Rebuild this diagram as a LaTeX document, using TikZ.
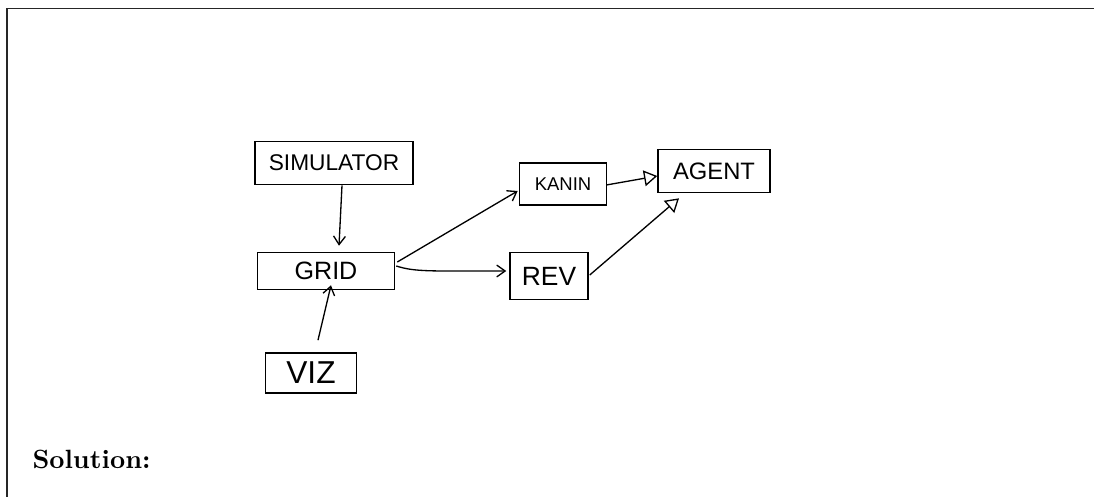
\documentclass[tikz,border=0pt]{standalone}
\usepackage{fontspec}
\newfontfamily\handfont{Liberation Sans}
\usetikzlibrary{arrows.meta,calc}
\begin{document}
\begin{tikzpicture}[x=0.3788pt,y=-0.3788pt,
  box/.style={draw=black,line width=0.6pt,inner sep=0pt,font=\handfont},
  conn/.style={draw=black,line width=0.5pt,-{Straight Barb[length=3.2pt,width=4.5pt]}},
  tri/.style={draw=black,line width=0.5pt,-{Triangle[open,length=5pt,width=6pt]}}]
\useasboundingbox (0,0) rectangle (1094,497);
% frame
\coordinate (ftl) at (7,8.5);
\coordinate (ftr) at (1094,8.5);
\coordinate (fbl) at (7,497);
\draw[line width=0.7pt,black!85] (fbl) -- (ftl) -- (ftr);
% nodes
\node[box,minimum width=59.9pt,minimum height=16.3pt,font=\handfont\fontsize{8.6}{10}\selectfont] (sim) at (334,163) {SIMULATOR};
\node[box,minimum width=51.9pt,minimum height=14pt,font=\handfont\fontsize{9.5}{11}\selectfont] (grid) at (326,271) {GRID};
\node[box,minimum width=34.5pt,minimum height=15.2pt,font=\handfont\fontsize{12}{14}\selectfont] (viz) at (311,373) {VIZ};
\node[box,minimum width=33pt,minimum height=15.9pt,font=\handfont\fontsize{7}{8}\selectfont] (kanin) at (563,184) {KANIN};
\node[box,minimum width=42.4pt,minimum height=16.3pt,font=\handfont\fontsize{9}{11}\selectfont] (agent) at (714,171) {AGENT};
\node[box,minimum width=29.5pt,minimum height=17.8pt,font=\handfont\fontsize{10}{12}\selectfont] (rev) at (549,276) {REV};
\node[anchor=base west,inner sep=0pt,font=\bfseries] (sol) at (32,468) {Solution:};
% connectors
\draw[conn] ($(sim.south)+(8,0)$) -- ($(grid.north)+(13,-6)$);
\draw[conn] ($(viz.north)+(7,-12)$) -- ($(grid.south)+(5,-5)$);
\draw[conn] ($(grid.east)+(2,-9)$) -- ($(kanin.west)+(-1,7)$);
\draw[conn] ($(grid.east)+(1,-5)$) .. controls (415,272) and (430,271) .. ($(rev.west)+(-3,-5)$);
\draw[tri] ($(kanin.east)+(-1,1)$) -- ($(agent.west)+(0,5)$);
\draw[tri] ($(rev.east)+(1,-1)$) -- ($(agent.south)+(-35,5)$);
\end{tikzpicture}
\end{document}
